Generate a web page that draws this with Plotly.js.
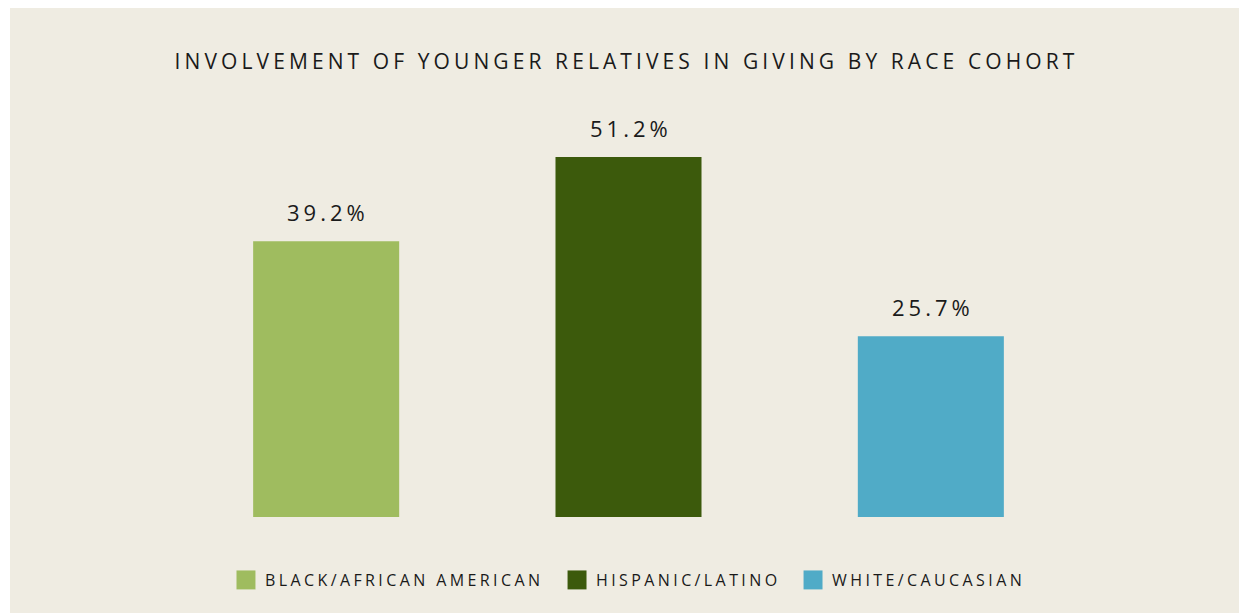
<!DOCTYPE html>
<html>
<head>
<meta charset="utf-8">
<script src="https://cdn.plot.ly/plotly-3.0.1.min.js"></script>
<style>
  html, body { margin: 0; padding: 0; background: #ffffff; }
  #chart { position: absolute; left: 10px; top: 8px; width: 1229px; height: 605px; }
  .gtitle { letter-spacing: 4.1px; }
  .infolayer g[class*="legend"] text { letter-spacing: 3.4px; }
  .infolayer g[class*="legend"] * { clip-path: none !important; }
  .legendtext { letter-spacing: 3.4px; }
  .annotation-text { letter-spacing: 4px; }
  .legendpoints path { transform: translateX(21px) scale(1.58); }
</style>
</head>
<body>
<div id="chart"></div>
<script>
const categories = ["BLACK/AFRICAN AMERICAN", "HISPANIC/LATINO", "WHITE/CAUCASIAN"];
const values = [39.2, 51.2, 25.7];
const colors = ["#9FBC5F", "#3C5A0C", "#50ABC7"];
const labels = ["39.2%", "51.2%", "25.7%"];
const chartTitle = "INVOLVEMENT OF YOUNGER RELATIVES IN GIVING BY RACE COHORT";
const legendIds = ["legend", "legend2", "legend3"];
const legendX = [0.0551, 0.4201, 0.6803];

const traces = categories.map((c, i) => ({
  type: "bar",
  name: c,
  x: [c],
  y: [values[i]],
  marker: { color: colors[i] },
  legend: legendIds[i],
  hoverinfo: "none"
}));

const annotations = categories.map((c, i) => ({
  x: c, y: values[i], xref: "x", yref: "y",
  text: labels[i], showarrow: false,
  yanchor: "bottom", yshift: 12, xshift: 2,
  font: { family: "Open Sans", size: 22, color: "#1a1a1a" }
}));

const legendFont = { family: "Open Sans", size: 16, color: "#1a1a1a" };

const layout = {
  width: 1229, height: 605,
  paper_bgcolor: "#EFECE2", plot_bgcolor: "#EFECE2",
  margin: { l: 165, r: 157, t: 87, b: 96 },
  barmode: "overlay",
  bargap: 0.517,
  title: {
    text: chartTitle,
    font: { family: "Open Sans", size: 21, color: "#1a1a1a" },
    x: 0.5016, xanchor: "center", y: 0.912, yanchor: "middle", yref: "container"
  },
  xaxis: { categoryorder: "array", categoryarray: categories, showticklabels: false, showgrid: false, zeroline: false, showline: false, ticks: "" },
  yaxis: { range: [0, 60], visible: false, showgrid: false, zeroline: false },
  showlegend: true,
  annotations: annotations
};

legendIds.forEach((id, i) => {
  layout[id] = {
    orientation: "h", x: legendX[i], xanchor: "left", xref: "paper",
    y: 0.0545, yanchor: "middle", yref: "container",
    font: legendFont, bgcolor: "rgba(0,0,0,0)", borderwidth: 0
  };
});

function spaceLegendText() {
  document.querySelectorAll("#chart .legendtext").forEach(el => {
    el.style.letterSpacing = "3.4px";
  });
  document.querySelectorAll("#chart .infolayer [clip-path]").forEach(el => {
    if (el.closest("g[class*='legend']")) el.removeAttribute("clip-path");
  });
}

Plotly.newPlot("chart", traces, layout, { displayModeBar: false, staticPlot: true }).then(gd => {
  spaceLegendText();
  gd.on("plotly_afterplot", spaceLegendText);
});
</script>
</body>
</html>
